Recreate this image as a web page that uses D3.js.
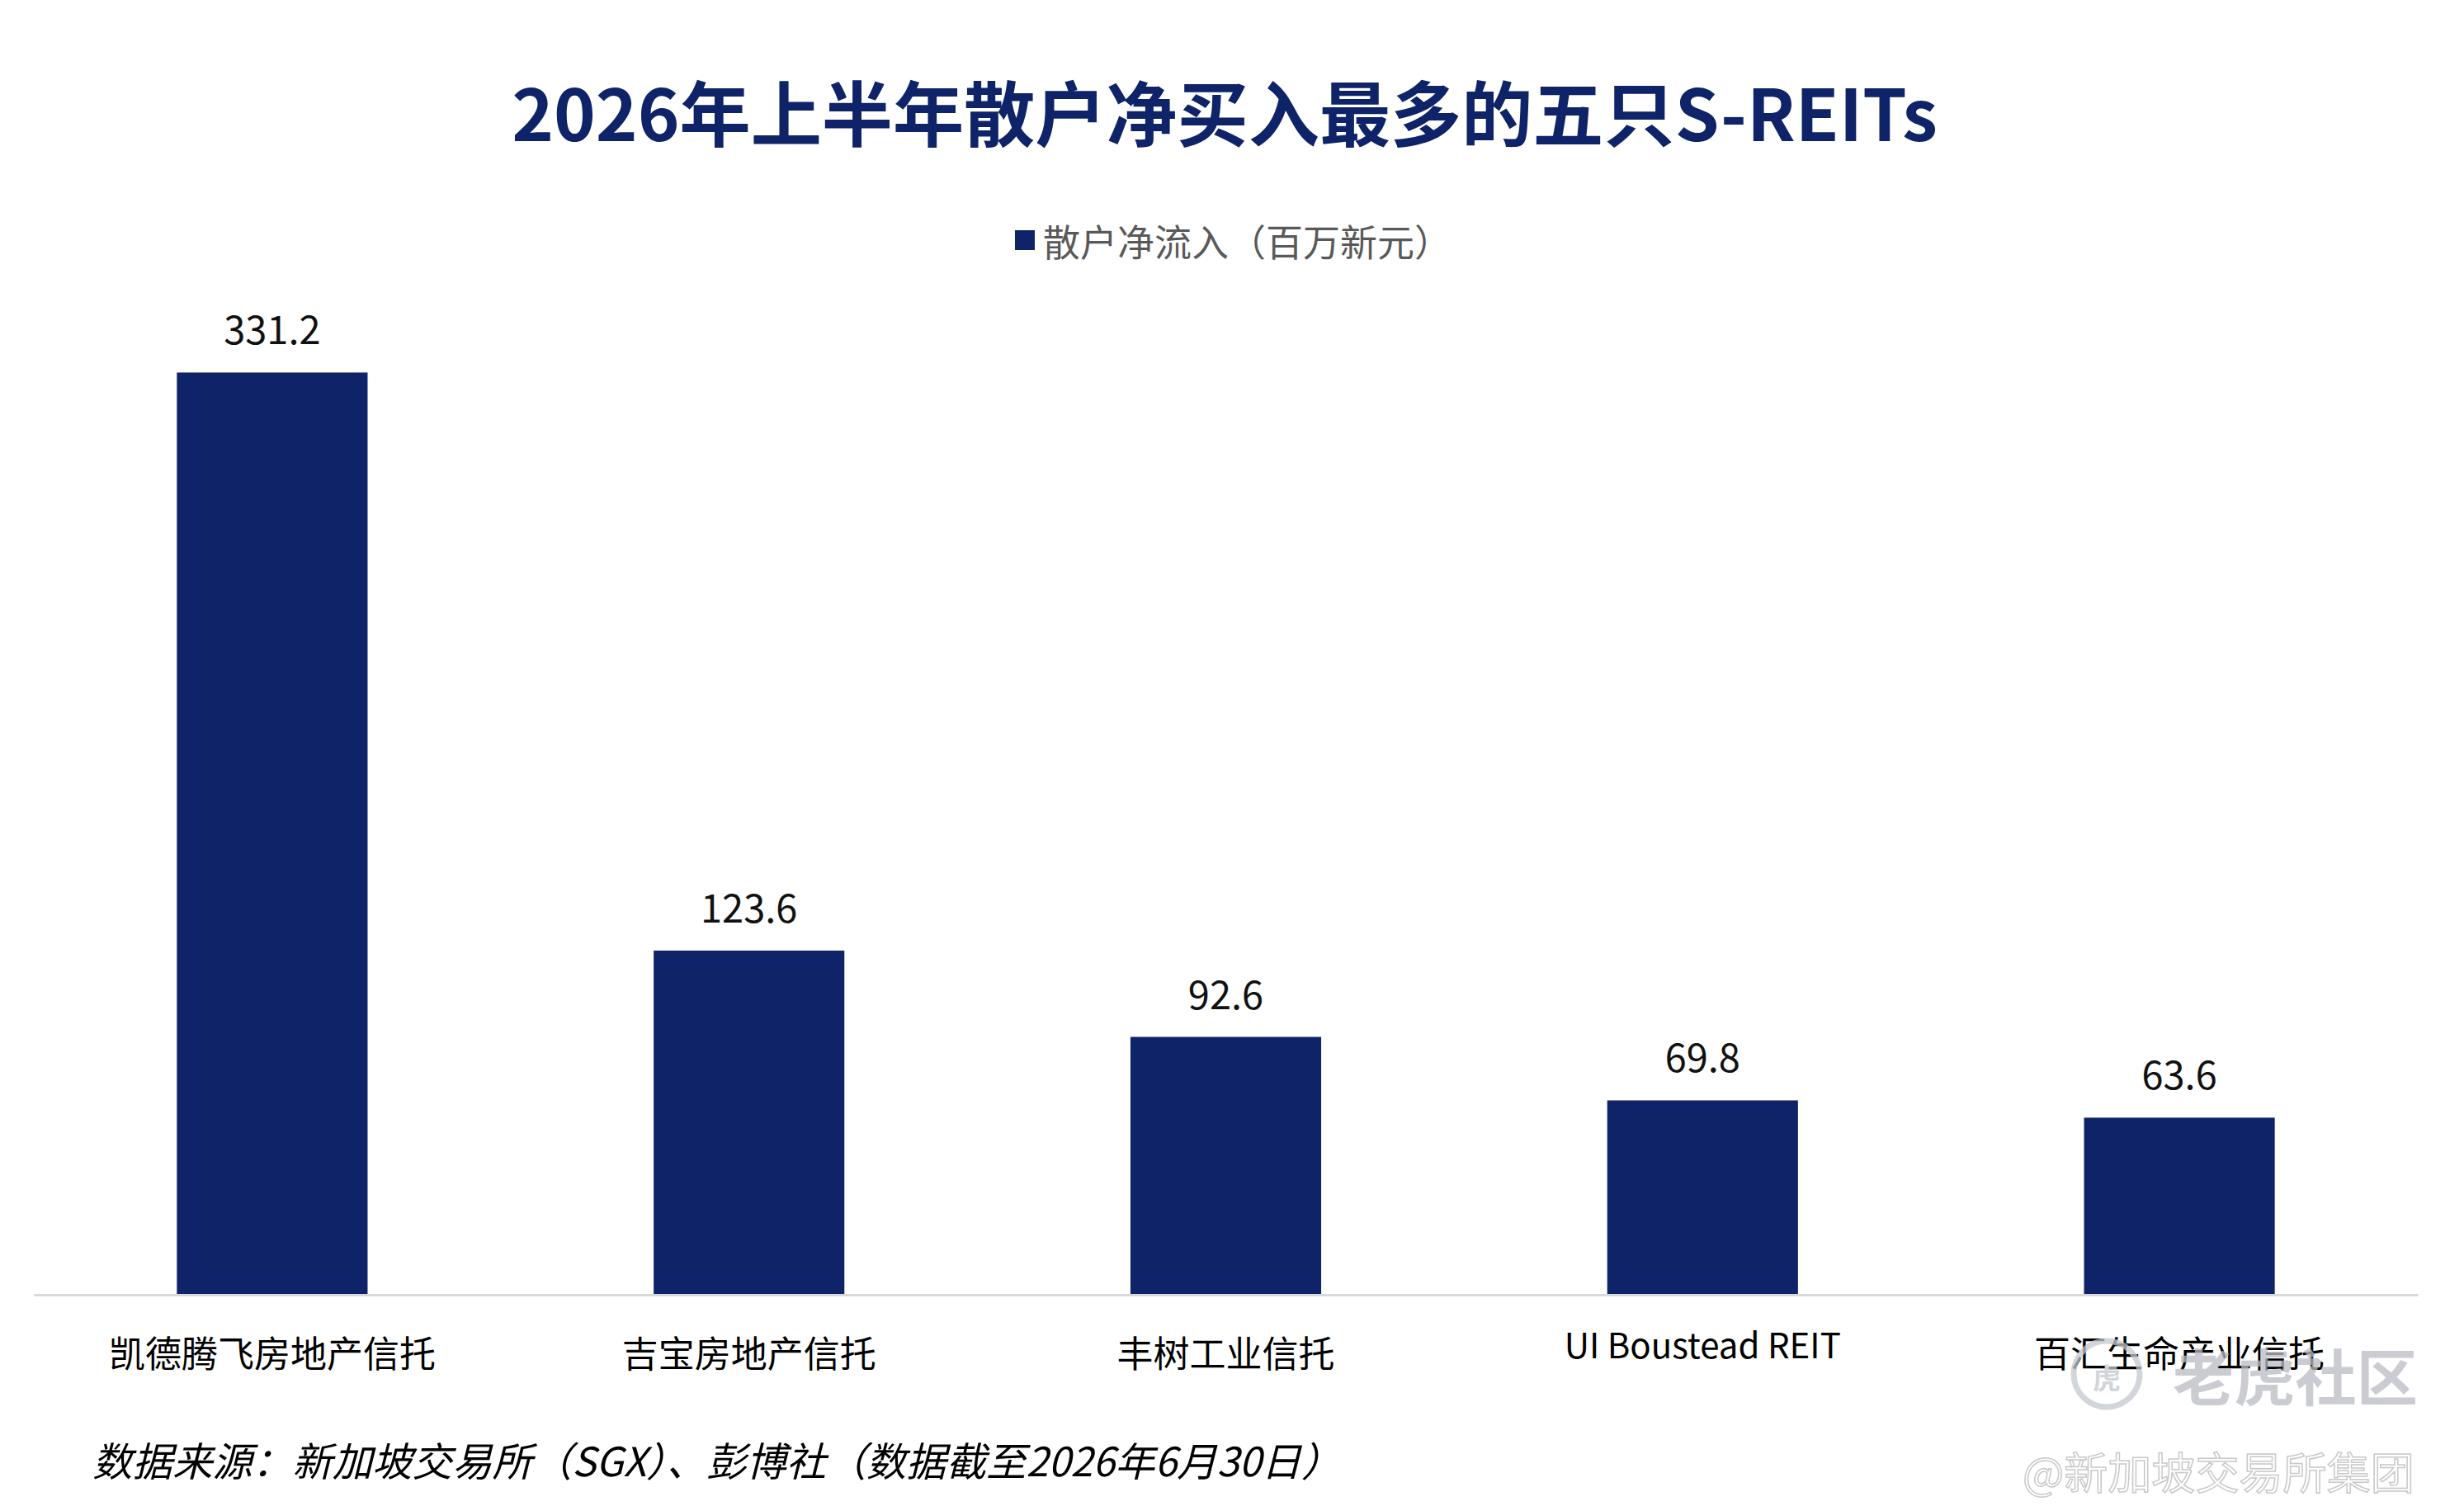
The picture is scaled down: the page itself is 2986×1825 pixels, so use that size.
<!DOCTYPE html>
<html>
<head>
<meta charset="utf-8">
<script src="https://cdn.jsdelivr.net/npm/d3@7/dist/d3.min.js"></script>
<style>
  html, body { margin: 0; padding: 0; background: #fff; }
  svg { display: block; }
</style>
</head>
<body>
<svg id="chart" width="2986" height="1825"></svg>
<script>
// ---- data ----
const chartTitle = "2026年上半年散户净买入最多的五只S-REITs";
const seriesName = "散户净流入（百万新元）";
const categories = ["凯德腾飞房地产信托", "吉宝房地产信托", "丰树工业信托", "UI Boustead REIT", "百汇生命产业信托"];
const values = [331.2, 123.6, 92.6, 69.8, 63.6];
const sourceNote = "数据来源：新加坡交易所（SGX）、彭博社（数据截至2026年6月30日）";
const watermarkBrand = "老虎社区";
const watermarkUser = "@新加坡交易所集团";

// ---- layout / style ----
const W = 2986, H = 1825;
const FONT = "'Noto Sans CJK SC', 'Noto Sans', sans-serif";
const NAVY = "#0e2368";
const svg = d3.select("#chart");
svg.append("rect").attr("width", W).attr("height", H).attr("fill", "#fff");

function fitWidth(sel, target) {
  const fs = +sel.attr("font-size");
  const w = sel.node().getComputedTextLength();
  if (w > 0) sel.attr("font-size", fs * target / w);
}

// title
const title = svg.append("text")
  .attr("x", 1484).attr("y", 133)
  .attr("text-anchor", "middle").attr("dominant-baseline", "central")
  .attr("font-family", FONT).attr("font-weight", 700)
  .attr("font-size", 88).attr("fill", NAVY)
  .text(chartTitle);
fitWidth(title, 1728);

// legend
svg.append("rect").attr("x", 1230).attr("y", 279).attr("width", 24).attr("height", 24).attr("fill", NAVY);
svg.append("text")
  .attr("x", 1264).attr("y", 291)
  .attr("dominant-baseline", "central")
  .attr("font-family", FONT).attr("font-size", 45).attr("fill", "#595959")
  .text(seriesName);

// scales
const x = d3.scaleBand().domain(categories).range([41, 2930]).paddingInner(0.6).paddingOuter(0.3);
const y = d3.scaleLinear().domain([0, 350]).range([1569, 388]);

// bars
svg.append("g").selectAll("rect")
  .data(values)
  .join("rect")
  .attr("x", (d, i) => x(categories[i]))
  .attr("width", x.bandwidth())
  .attr("y", d => y(d))
  .attr("height", d => y(0) - y(d))
  .attr("fill", NAVY);

// value labels
svg.append("g").selectAll("text")
  .data(values)
  .join("text")
  .attr("x", (d, i) => x(categories[i]) + x.bandwidth() / 2)
  .attr("y", d => y(d) - 34)
  .attr("text-anchor", "middle")
  .attr("font-family", FONT).attr("font-size", 47).attr("fill", "#111")
  .text(d => d.toFixed(1));

// x axis
const isLatin = s => /^[\x00-\x7F]+$/.test(s);
const xAxis = svg.append("g")
  .attr("transform", `translate(0,${y(0)})`)
  .call(d3.axisBottom(x).tickSize(0).tickSizeOuter(0).tickPadding(0));
xAxis.select(".domain").attr("stroke", "#d9d9d9").attr("stroke-width", 3);
xAxis.selectAll(".tick text")
  .attr("y", d => isLatin(d) ? 58 : 69).attr("dy", null)
  .attr("dominant-baseline", "central")
  .attr("font-family", FONT).attr("font-size", d => isLatin(d) ? 42 : 44).attr("fill", "#000");

// source note
const src = svg.append("text")
  .attr("x", 112).attr("y", 1768)
  .attr("dominant-baseline", "central")
  .attr("font-family", FONT).attr("font-style", "italic")
  .attr("font-size", 47).attr("fill", "#000")
  .text(sourceNote);
fitWidth(src, 1514);

// watermark
const wm = svg.append("g").attr("opacity", 0.75);
wm.append("circle").attr("cx", 2553).attr("cy", 1665).attr("r", 40)
  .attr("fill", "none").attr("stroke", "#c4c7cd").attr("stroke-width", 7);
wm.append("text").attr("x", 2553).attr("y", 1668)
  .attr("text-anchor", "middle").attr("dominant-baseline", "central")
  .attr("font-family", FONT).attr("font-weight", 700).attr("font-size", 34).attr("fill", "#c4c7cd")
  .text("虎");
const wmb = wm.append("text").attr("x", 2633).attr("y", 1664)
  .attr("dominant-baseline", "central")
  .attr("font-family", FONT).attr("font-weight", 700).attr("font-size", 78).attr("fill", "#b9bcc3")
  .text(watermarkBrand);
fitWidth(wmb, 297);
const wmu = svg.append("text").attr("x", 2451).attr("y", 1781)
  .attr("dominant-baseline", "central")
  .attr("font-family", FONT).attr("font-size", 56)
  .attr("fill", "#fff").attr("stroke", "#c8c8c8").attr("stroke-width", 1.5)
  .text(watermarkUser);
fitWidth(wmu, 475);
</script>
</body>
</html>
